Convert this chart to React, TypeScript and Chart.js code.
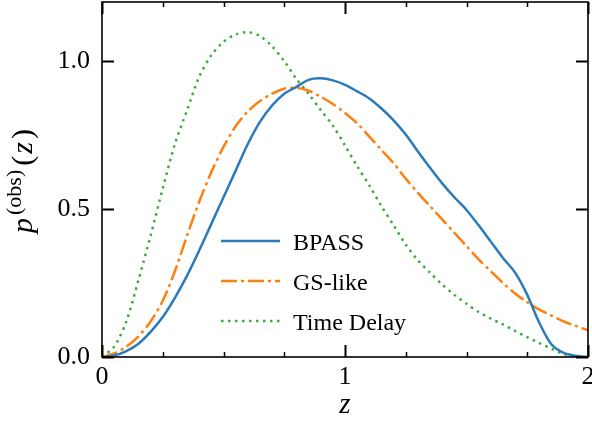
import { useEffect, useRef } from "react";
import { Chart, registerables } from "chart.js";

Chart.register(...registerables);

const zValues = [
  0, 0.05, 0.1, 0.15, 0.2, 0.25, 0.3, 0.35, 0.4, 0.45, 0.5, 0.55, 0.6, 0.65, 0.7,
  0.75, 0.8, 0.85, 0.9, 0.95, 1.0, 1.05, 1.1, 1.15, 1.2, 1.25, 1.3, 1.35, 1.4,
  1.45, 1.5, 1.55, 1.6, 1.65, 1.7, 1.75, 1.8, 1.85, 1.9, 1.95, 2.0,
];

const bpass = [
  0, 0.005, 0.02, 0.045, 0.085, 0.135, 0.2, 0.275, 0.36, 0.45, 0.54, 0.63, 0.72,
  0.795, 0.85, 0.89, 0.913, 0.937, 0.942, 0.935, 0.92, 0.898, 0.874, 0.84, 0.8,
  0.752, 0.695, 0.64, 0.587, 0.54, 0.497, 0.445, 0.39, 0.335, 0.285, 0.21, 0.115,
  0.042, 0.014, 0.004, 0.0,
];

const gsLike = [
  0, 0.012, 0.035, 0.07, 0.12, 0.19, 0.29, 0.41, 0.525, 0.625, 0.71, 0.78,
  0.83, 0.865, 0.89, 0.907, 0.91, 0.9, 0.88, 0.855, 0.825, 0.79, 0.745, 0.7,
  0.655, 0.603, 0.555, 0.51, 0.465, 0.42, 0.375, 0.33, 0.29, 0.25, 0.215, 0.185,
  0.16, 0.14, 0.12, 0.105, 0.09,
];

const timeDelay = [
  0, 0.035, 0.12, 0.26, 0.41, 0.57, 0.72, 0.834, 0.947, 1.02, 1.065, 1.09, 1.098,
  1.085, 1.05, 1.0, 0.94, 0.89, 0.835, 0.782, 0.715, 0.645, 0.58, 0.51, 0.445,
  0.38, 0.327, 0.285, 0.245, 0.21, 0.18, 0.152, 0.13, 0.11, 0.088, 0.067, 0.047,
  0.028, 0.01, 0.0, 0.0,
];

const seriesNames = ["BPASS", "GS-like", "Time Delay"];
const seriesColors = ["#2b7bba", "#ff7f0e", "#3cab3c"];

const xTickValues = [0, 0.25, 0.5, 0.75, 1, 1.25, 1.5, 1.75, 2];
const xTickLabels = ["0", "", "", "", "1", "", "", "", "2"];
const yTickValues = [0, 0.5, 1.0];
const yTickLabels = ["0.0", "0.5", "1.0"];

const SERIF = "'Liberation Serif', 'DejaVu Serif', serif";

const framePlugin = {
  id: "frame",
  afterDatasetsDraw(chart: any) {
    const { ctx, chartArea } = chart;
    const { left, right, top, bottom } = chartArea;
    const xs = chart.scales.x;
    const ys = chart.scales.y;
    ctx.save();
    ctx.strokeStyle = "#000";
    ctx.lineCap = "butt";

    xTickValues.forEach((v, i) => {
      const px = Math.round(xs.getPixelForValue(v)) + 0.5;
      const major = xTickLabels[i] !== "";
      const len = major ? 12 : 5;
      ctx.lineWidth = major ? 2 : 1.5;
      ctx.beginPath();
      ctx.moveTo(px, bottom);
      ctx.lineTo(px, bottom - len);
      ctx.moveTo(px, top);
      ctx.lineTo(px, top + len);
      ctx.stroke();
    });
    yTickValues.forEach((v) => {
      const py = Math.round(ys.getPixelForValue(v)) + 0.5;
      ctx.lineWidth = 2;
      ctx.beginPath();
      ctx.moveTo(left, py);
      ctx.lineTo(left + 12, py);
      ctx.moveTo(right, py);
      ctx.lineTo(right - 12, py);
      ctx.stroke();
    });

    ctx.lineWidth = 1.6;
    ctx.strokeRect(left, top, right - left, bottom - top);

    const legendX0 = 221;
    const legendX1 = 280;
    const textX = 293;
    const rowYs = [241, 281, 321];
    chart.data.datasets.forEach((ds: any, i: number) => {
      const y = rowYs[i];
      ctx.save();
      ctx.strokeStyle = ds.borderColor;
      ctx.lineWidth = ds.borderWidth;
      ctx.setLineDash(ds.borderDash || []);
      ctx.beginPath();
      ctx.moveTo(legendX0, y);
      ctx.lineTo(legendX1, y);
      ctx.stroke();
      ctx.restore();
      ctx.fillStyle = "#000";
      ctx.font = `24px ${SERIF}`;
      ctx.textAlign = "left";
      ctx.textBaseline = "alphabetic";
      ctx.fillText(ds.label, textX, y + 9);
    });

    ctx.fillStyle = "#000";
    ctx.font = `italic 29px ${SERIF}`;
    ctx.textAlign = "center";
    ctx.textBaseline = "alphabetic";
    ctx.fillText("z", (left + right) / 2, 413);

    ctx.save();
    ctx.translate(32, 233);
    ctx.rotate(-Math.PI / 2);
    ctx.textAlign = "left";
    ctx.textBaseline = "alphabetic";
    let cx = 0;
    ctx.font = `italic 30px ${SERIF}`;
    ctx.fillText("p", cx, 0);
    cx += ctx.measureText("p").width + 3;
    ctx.font = `22px ${SERIF}`;
    ctx.fillText("(obs)", cx, -11);
    cx += ctx.measureText("(obs)").width + 4;
    ctx.font = `30px ${SERIF}`;
    ctx.fillText("(", cx, 0);
    cx += ctx.measureText("(").width + 2;
    ctx.font = `italic 30px ${SERIF}`;
    ctx.fillText("z", cx, 0);
    cx += ctx.measureText("z").width + 3;
    ctx.font = `30px ${SERIF}`;
    ctx.fillText(")", cx, 0);
    ctx.restore();

    ctx.restore();
  },
};

export default function App() {
  const canvasRef = useRef<HTMLCanvasElement | null>(null);

  useEffect(() => {
    document.body.style.margin = "0";
    const canvas = canvasRef.current;
    if (!canvas) return;

    const datasets = [bpass, gsLike, timeDelay].map((vals, i) => ({
      label: seriesNames[i],
      data: zValues.map((z, k) => ({ x: z, y: vals[k] })),
      borderColor: seriesColors[i],
      backgroundColor: seriesColors[i],
      borderWidth: 2.5,
      borderDash: i === 0 ? [] : i === 1 ? [16, 4, 3, 4] : [2.5, 4.5],
      pointRadius: 0,
      tension: 0.3,
      fill: false,
    }));

    const chart = new Chart(canvas, {
      type: "line",
      data: { datasets },
      plugins: [framePlugin],
      options: {
        responsive: false,
        animation: false,
        devicePixelRatio: 1,
        layout: { padding: { top: 2, right: 4, left: 0, bottom: 0 } },
        plugins: {
          legend: { display: false },
          tooltip: { enabled: false },
        },
        scales: {
          x: {
            type: "linear",
            min: 0,
            max: 2,
            afterBuildTicks: (s: any) => {
              s.ticks = xTickValues.map((v) => ({ value: v }));
            },
            afterFit: (s: any) => {
              s.height = 67;
              s.paddingLeft = 0;
              s.paddingRight = 0;
              s.paddingTop = 0;
              s.paddingBottom = 0;
            },
            ticks: {
              autoSkip: false,
              maxRotation: 0,
              minRotation: 0,
              padding: 5,
              color: "#000",
              font: { family: SERIF, size: 26 },
              callback: (_v: any, i: number) => xTickLabels[i],
            },
            grid: { display: false, drawTicks: false },
            border: { display: false },
          },
          y: {
            type: "linear",
            min: 0,
            max: 1.2,
            afterBuildTicks: (s: any) => {
              s.ticks = yTickValues.map((v) => ({ value: v }));
            },
            afterFit: (s: any) => {
              s.width = 102;
              s.paddingLeft = 0;
              s.paddingRight = 0;
              s.paddingTop = 0;
              s.paddingBottom = 0;
            },
            ticks: {
              padding: 12,
              color: "#000",
              font: { family: SERIF, size: 26 },
              callback: (_v: any, i: number) => yTickLabels[i],
            },
            grid: { display: false, drawTicks: false },
            border: { display: false },
          },
        },
      },
    });

    return () => {
      chart.destroy();
    };
  }, []);

  return (
    <div style={{ position: "absolute", left: 0, top: 0, width: 592, height: 424 }}>
      <canvas ref={canvasRef} width={592} height={424} style={{ display: "block" }} />
    </div>
  );
}
